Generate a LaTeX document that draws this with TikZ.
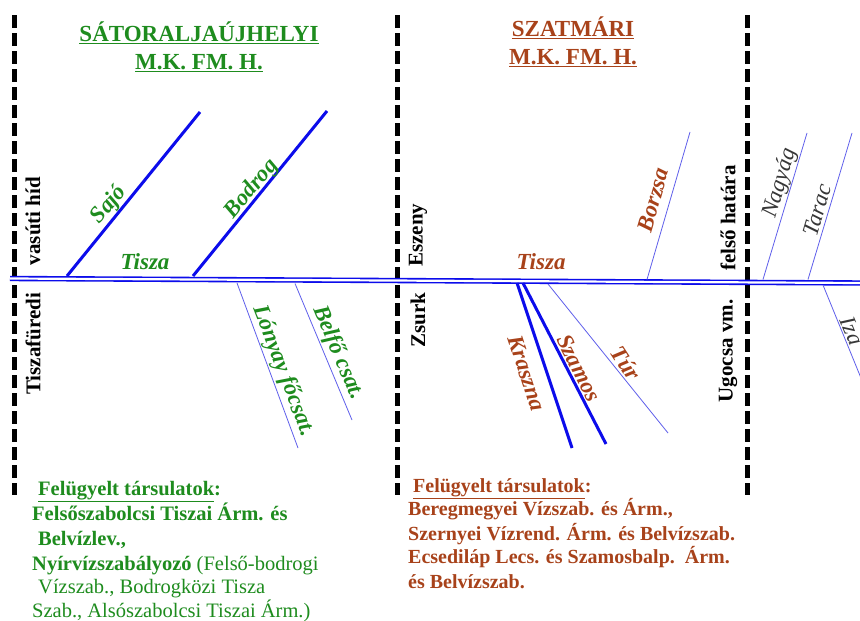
\documentclass[tikz,border=0pt]{standalone}
\usepackage{fontspec}
\setmainfont{Liberation Serif}
\definecolor{grn}{RGB}{30,140,30}
\definecolor{brn}{RGB}{168,66,26}
\definecolor{rblue}{RGB}{12,12,235}
\definecolor{tblue}{RGB}{95,95,235}
\definecolor{dgray}{RGB}{55,55,55}
\tikzset{
  border/.style={line width=5pt, dash pattern=on 13pt off 5pt, black},
  river/.style={rblue, line width=3pt},
  brook/.style={tblue, line width=0.8pt},
  mainriver/.style={draw=rblue, double=white, line width=1.6pt, double distance=2.2pt},
  title/.style={font=\fontsize{23}{28}\selectfont\bfseries, align=center, inner sep=0pt},
  vlabel/.style={font=\fontsize{21}{24}\selectfont\bfseries, rotate=90, inner sep=0pt, black},
  rlabel/.style={font=\fontsize{23}{26}\selectfont\bfseries\itshape, inner sep=0pt},
  glabel/.style={font=\fontsize{23}{26}\selectfont\itshape, inner sep=0pt, dgray},
  txt/.style={font=\fontsize{20.5}{24}\selectfont, anchor=base west, inner sep=0pt},
  txtb/.style={font=\fontsize{20}{24}\selectfont\bfseries, anchor=base west, inner sep=0pt},
}
\begin{document}
\begin{tikzpicture}[x=1pt,y=-1pt]
\clip (0,0) rectangle (860,621);
\fill[white] (0,0) rectangle (860,621);

% borders
\coordinate (b1t) at (14,15);  \coordinate (b1b) at (14,495);
\coordinate (b2t) at (397,15); \coordinate (b2b) at (397,495);
\coordinate (b3t) at (747,15); \coordinate (b3b) at (747,495);
\draw[border] (b1t) -- (b1b);
\draw[border] (b2t) -- (b2b);
\draw[border] (b3t) -- (b3b);

% main river Tisza
\coordinate (t0) at (10,278.5);
\coordinate (t1) at (862,283);
\draw[mainriver] (t0) -- (t1);

% tributaries
\coordinate (sajoA) at (67,276);   \coordinate (sajoB) at (200,112);
\coordinate (bodA) at (193,276);   \coordinate (bodB) at (327,111);
\draw[river] (sajoA) -- (sajoB);
\draw[river] (bodA) -- (bodB);
\coordinate (lonA) at (237,283);   \coordinate (lonB) at (298,448);
\coordinate (belA) at (295,283.5); \coordinate (belB) at (352,420);
\draw[brook] (lonA) -- (lonB);
\draw[brook] (belA) -- (belB);
\coordinate (krA) at (517,283);    \coordinate (krB) at (572,448);
\coordinate (szA) at (523,283);    \coordinate (szB) at (606,444);
\draw[river] (krA) -- (krB);
\draw[river] (szA) -- (szB);
\coordinate (turA) at (548,284);   \coordinate (turB) at (668,433);
\draw[brook] (turA) -- (turB);
\coordinate (borA) at (647,279.5); \coordinate (borB) at (690,132);
\draw[brook] (borA) -- (borB);
\coordinate (nagA) at (763,279.5); \coordinate (nagB) at (807,133);
\coordinate (tarA) at (808,279.5); \coordinate (tarB) at (852,133);
\draw[brook] (nagA) -- (nagB);
\draw[brook] (tarA) -- (tarB);
\coordinate (izaA) at (823,285);   \coordinate (izaB) at (872,405);
\draw[brook] (izaA) -- (izaB);

% titles
\node[title, grn] (t1title) at (199,47) {\underline{SÁTORALJAÚJHELYI}\\\underline{M.K. FM. H.}};
\node[title, brn] (t2title) at (573,42) {\underline{SZATMÁRI}\\\underline{M.K. FM. H.}};

% vertical labels
\node[vlabel] (vh) at (33,221) {vasúti híd};
\node[vlabel] (tf) at (33,344) {Tiszafüredi};
\node[vlabel] (es) at (418,235) {Eszeny};
\node[vlabel] (zs) at (418,320) {Zsurk};
\node[vlabel] (fh) at (728,218) {felső határa};
\node[vlabel] (uv) at (728,351) {Ugocsa vm.};

% river labels
\node[rlabel, grn, rotate=50.8] (lsajo) at (109,205) {Sajó};
\node[rlabel, grn, rotate=50.5] (lbod) at (252,189) {Bodrog};
\node[rlabel, grn] (ltisza1) at (145,262) {Tisza};
\node[rlabel, grn, rotate=-69] (llon) at (283,371) {Lónyay főcsat.};
\node[rlabel, grn, rotate=-67] (lbel) at (338,353) {Belfő csat.};
\node[rlabel, brn] (ltisza2) at (541,262) {Tisza};
\node[rlabel, brn, rotate=74] (lbor) at (653,200) {Borzsa};
\node[rlabel, brn, rotate=-72] (lkr) at (527,373) {Kraszna};
\node[rlabel, brn, rotate=-63] (lsz) at (579,368) {Szamos};
\node[rlabel, brn, rotate=-57] (ltur) at (626,363) {Túr};
\node[glabel, rotate=73.6] (lnag) at (780,183) {Nagyág};
\node[glabel, rotate=73.6] (ltar) at (817,210) {Tarac};
\node[glabel, rotate=-67.6] (liza) at (852,331) {Iza};

% supervised companies, left
\begin{scope}[grn]
\node[txt] (g1) at (38,495) {\bfseries\underline{Felügyelt társulatok}:};
\node[txt] (g2) at (32,520) {\bfseries Felsőszabolcsi Tiszai Árm. és};
\node[txt] (g3) at (38,545) {\bfseries Belvízlev.,};
\node[txt] (g4) at (32,570) {\textbf{Nyírvízszabályozó} (Felső-bodrogi};
\node[txt] (g5) at (38,593) {Vízszab., Bodrogközi Tisza};
\node[txt] (g6) at (32,617) {Szab., Alsószabolcsi Tiszai Árm.)};
\end{scope}

% supervised companies, middle
\begin{scope}[brn]
\node[txtb] (r1) at (413,492) {\underline{Felügyelt társulatok}:};
\node[txtb] (r2) at (408,515) {Beregmegyei Vízszab. és Árm.,};
\node[txtb] (r3) at (408,540) {Szernyei Vízrend. Árm. és Belvízszab.};
\node[txtb] (r4) at (408,563) {Ecsediláp Lecs. és Szamosbalp.\ \ Árm.};
\node[txtb] (r5) at (408,588) {és Belvízszab.};
\end{scope}
\end{tikzpicture}
\end{document}
